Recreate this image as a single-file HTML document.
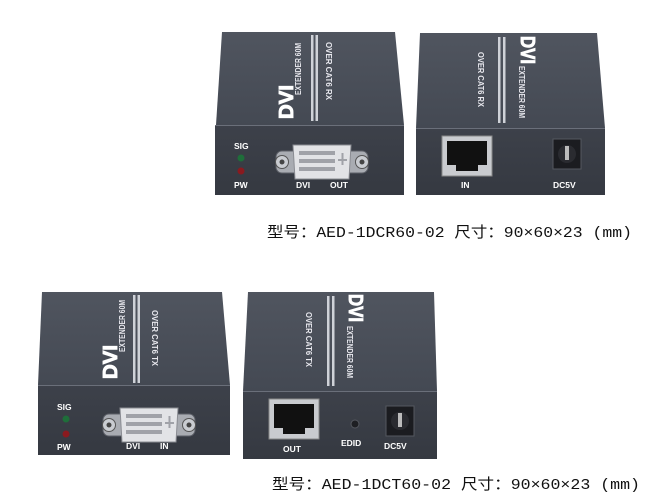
<!DOCTYPE html>
<html><head><meta charset="utf-8"><style>
html,body{margin:0;padding:0;background:#fff;width:667px;height:503px;overflow:hidden}
svg{display:block}
.w{font-family:"Liberation Sans",sans-serif;font-weight:bold;fill:#fff}
.n{font-family:"Liberation Sans",sans-serif;font-weight:bold;fill:#e8e8ee}
.b{font-family:"Liberation Sans",sans-serif;font-weight:bold;fill:#fff;stroke:#fff;stroke-width:0.9}
.cap{font-family:"Liberation Mono","Noto Sans CJK SC",monospace;fill:#111;font-size:15px}
</style></head><body>
<svg width="667" height="503" viewBox="0 0 667 503" xmlns="http://www.w3.org/2000/svg">
<defs>
<linearGradient id="tp" x1="0" y1="0" x2="0" y2="1"><stop offset="0" stop-color="#50555f"/><stop offset="1" stop-color="#444953"/></linearGradient>
<linearGradient id="fr" x1="0" y1="0" x2="0" y2="1"><stop offset="0" stop-color="#3d414a"/><stop offset="1" stop-color="#353941"/></linearGradient>
<g id="dvi">
 <rect x="-46" y="-11" width="92" height="22" rx="6" fill="#a9acb2" stroke="#5d6068"/>
 <circle cx="-40" cy="0" r="6.5" fill="#c9ccd1" stroke="#555"/><circle cx="-40" cy="0" r="2.5" fill="#444"/>
 <circle cx="40" cy="0" r="6.5" fill="#c9ccd1" stroke="#555"/><circle cx="40" cy="0" r="2.5" fill="#444"/>
 <path d="M-29,-17 H29 L27,17 H-27 Z" fill="#e2e3e6" stroke="#8a8c92"/>
 <g fill="#a0a2a8">
  <rect x="-23" y="-11" width="36" height="4"/><rect x="-23" y="-3" width="36" height="4"/><rect x="-23" y="5" width="36" height="4"/>
  <rect x="16" y="-3" width="9" height="2"/><rect x="19.5" y="-9" width="2" height="12"/>
 </g>
</g>
<g id="rj">
 <rect x="0" y="0" width="50" height="40" fill="#c9cbcf" stroke="#888"/>
 <rect x="5" y="5" width="40" height="24" fill="#111"/>
 <rect x="14" y="29" width="22" height="6" fill="#111"/>
</g>
<g id="dc">
 <rect x="0" y="0" width="28" height="30" fill="#1b1c20" stroke="#55585f"/>
 <circle cx="14" cy="15" r="9" fill="#2a2b30"/>
 <rect x="12" y="7" width="4" height="14" fill="#bbb"/>
</g>
</defs>

<!-- Top-left device -->
<polygon points="222,32 395,32 404,125 216,125" fill="url(#tp)"/>
<rect x="215" y="125" width="189" height="70" fill="url(#fr)"/>
<line x1="215" y1="125.5" x2="404" y2="125.5" stroke="#6a6f7a"/>
<text class="b" transform="translate(293,119) rotate(-90)" font-size="20" textLength="34" lengthAdjust="spacingAndGlyphs">DVI</text>
<text class="n" transform="translate(301,95) rotate(-90)" font-size="8" textLength="52" lengthAdjust="spacingAndGlyphs">EXTENDER 60M</text>
<rect x="311" y="35" width="2.5" height="86" fill="#cfd2d8"/><rect x="315.5" y="35" width="2.5" height="86" fill="#cfd2d8"/>
<text class="n" transform="translate(326,42) rotate(90)" font-size="8" textLength="58" lengthAdjust="spacingAndGlyphs">OVER  CAT6  RX</text>
<text class="w" x="234" y="149" font-size="8.5">SIG</text>
<circle cx="241" cy="158" r="3.5" fill="#1f6e3a"/><circle cx="241" cy="171" r="3.5" fill="#8a1a1f"/>
<text class="w" x="234" y="188" font-size="8.5">PW</text>
<use href="#dvi" x="322" y="162"/>
<text class="w" x="296" y="188" font-size="8.5">DVI</text><text class="w" x="330" y="188" font-size="8.5">OUT</text>

<!-- Top-right device -->
<polygon points="420,33 597,33 605,128 416,128" fill="url(#tp)"/>
<rect x="416" y="128" width="189" height="67" fill="url(#fr)"/>
<line x1="416" y1="128.5" x2="605" y2="128.5" stroke="#6a6f7a"/>
<text class="b" transform="translate(521,36) rotate(90)" font-size="20" textLength="28" lengthAdjust="spacingAndGlyphs">DVI</text>
<text class="n" transform="translate(519,66) rotate(90)" font-size="8" textLength="52" lengthAdjust="spacingAndGlyphs">EXTENDER 60M</text>
<rect x="498" y="37" width="2.5" height="86" fill="#cfd2d8"/><rect x="503" y="37" width="2.5" height="86" fill="#cfd2d8"/>
<text class="n" transform="translate(478,52) rotate(90)" font-size="8" textLength="55" lengthAdjust="spacingAndGlyphs">OVER  CAT6  RX</text>
<use href="#rj" x="442" y="136"/>
<text class="w" x="461" y="188" font-size="8.5">IN</text>
<use href="#dc" x="553" y="139"/>
<text class="w" x="553" y="188" font-size="8.5">DC5V</text>

<text class="cap" x="267" y="237" textLength="365" lengthAdjust="spacingAndGlyphs">型号：AED-1DCR60-02 尺寸：90×60×23 (mm)</text>

<!-- Bottom-left device -->
<polygon points="42,292 222,292 230,385 38,385" fill="url(#tp)"/>
<rect x="38" y="385" width="192" height="70" fill="url(#fr)"/>
<line x1="38" y1="385.5" x2="230" y2="385.5" stroke="#6a6f7a"/>
<text class="b" transform="translate(117,379) rotate(-90)" font-size="20" textLength="34" lengthAdjust="spacingAndGlyphs">DVI</text>
<text class="n" transform="translate(125,352) rotate(-90)" font-size="8" textLength="52" lengthAdjust="spacingAndGlyphs">EXTENDER 60M</text>
<rect x="133" y="295" width="2.5" height="88" fill="#cfd2d8"/><rect x="137.5" y="295" width="2.5" height="88" fill="#cfd2d8"/>
<text class="n" transform="translate(152,310) rotate(90)" font-size="8" textLength="56" lengthAdjust="spacingAndGlyphs">OVER  CAT6  TX</text>
<text class="w" x="57" y="410" font-size="8.5">SIG</text>
<circle cx="66" cy="419" r="3.5" fill="#1f6e3a"/><circle cx="66" cy="434" r="3.5" fill="#8a1a1f"/>
<text class="w" x="57" y="450" font-size="8.5">PW</text>
<use href="#dvi" x="149" y="425"/>
<text class="w" x="126" y="449" font-size="8.5">DVI</text><text class="w" x="160" y="449" font-size="8.5">IN</text>

<!-- Bottom-right device -->
<polygon points="248,292 434,292 437,391 243,391" fill="url(#tp)"/>
<rect x="243" y="391" width="194" height="68" fill="url(#fr)"/>
<line x1="243" y1="391.5" x2="437" y2="391.5" stroke="#6a6f7a"/>
<text class="b" transform="translate(349,294) rotate(90)" font-size="20" textLength="28" lengthAdjust="spacingAndGlyphs">DVI</text>
<text class="n" transform="translate(347,326) rotate(90)" font-size="8" textLength="52" lengthAdjust="spacingAndGlyphs">EXTENDER 60M</text>
<rect x="327" y="296" width="2.5" height="90" fill="#cfd2d8"/><rect x="332" y="296" width="2.5" height="90" fill="#cfd2d8"/>
<text class="n" transform="translate(306,312) rotate(90)" font-size="8" textLength="55" lengthAdjust="spacingAndGlyphs">OVER  CAT6  TX</text>
<use href="#rj" x="269" y="399"/>
<text class="w" x="283" y="452" font-size="8.5">OUT</text>
<circle cx="355" cy="424" r="4" fill="#1e1f23" stroke="#55585f"/>
<text class="w" x="341" y="446" font-size="8.5">EDID</text>
<use href="#dc" x="386" y="406"/>
<text class="w" x="384" y="449" font-size="8.5">DC5V</text>

<text class="cap" x="272" y="489" textLength="368" lengthAdjust="spacingAndGlyphs">型号：AED-1DCT60-02 尺寸：90×60×23 (mm)</text>
</svg>
</body></html>
